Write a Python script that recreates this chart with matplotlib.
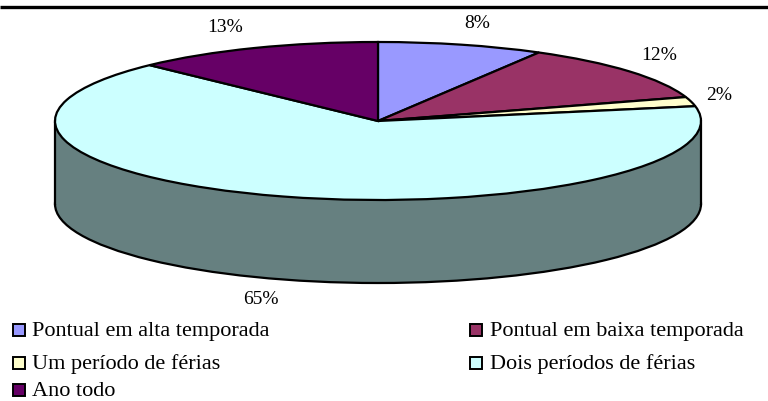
import matplotlib
matplotlib.use("Agg")
import matplotlib.pyplot as plt
from matplotlib.patches import Rectangle, Ellipse

plt.rcParams['font.family'] = ['Liberation Serif', 'DejaVu Serif']

categories = ["Pontual em alta temporada", "Pontual em baixa temporada",
              "Um período de férias", "Dois períodos de férias", "Ano todo"]
values = [8.3, 11.8, 1.9, 65.5, 12.5]
value_labels = ["8%", "12%", "2%", "65%", "13%"]
colors = ["#9999FF", "#993366", "#FFFFCC", "#CCFFFF", "#660066"]
side_color = "#668080"

W, H = 768, 401
CX, CY, RX, RY, DEPTH = 378, 121, 323, 79, 83
LW = 1.6

fig = plt.figure(figsize=(W / 100, H / 100), dpi=100)

# Pie axes: unit circle is stretched to the ellipse on the page
ax = fig.add_axes([0, 0, 1, 1])
ax.pie(values, colors=colors, startangle=90, counterclock=False, radius=1,
       wedgeprops=dict(edgecolor="black", linewidth=LW, zorder=5))
ax.set_aspect("auto")
ax.set_xlim((0 - CX) / RX, (W - CX) / RX)
ax.set_ylim((CY - H) / RY, (CY - 0) / RY)
ax.axis("off")

d = DEPTH / RY
ax.add_patch(Ellipse((0, -d), 2, 2, facecolor=side_color, edgecolor="black",
                     linewidth=LW, zorder=1))
ax.add_patch(Rectangle((-1, -d), 2, d, facecolor=side_color, edgecolor="none", zorder=2))
ax.plot([-1, -1], [0, -d], color="black", lw=LW, zorder=3)
ax.plot([1, 1], [0, -d], color="black", lw=LW, zorder=3)

# Overlay in page pixels for rule, labels and legend
ov = fig.add_axes([0, 0, 1, 1], facecolor="none")
ov.set_xlim(0, W)
ov.set_ylim(H, 0)
ov.axis("off")

ov.plot([0, W], [6.5, 6.5], color="black", lw=2.4, solid_capstyle="butt")

label_pos = [(477, 23), (659, 55), (719, 96), (261, 299), (225, 27)]
for txt, (x, y) in zip(value_labels, label_pos):
    ov.text(x, y, txt, fontsize=14, ha="center", va="center", color="black")

legend_pos = [(12, 336), (469, 336), (12, 369), (469, 369), (12, 396)]
for name, col, (x, y) in zip(categories, colors, legend_pos):
    ov.add_patch(Rectangle((x + 0.5, y - 12), 12, 11.5, facecolor=col, edgecolor="black",
                           linewidth=1.4, zorder=4))
    ov.text(x + 20.5, y, name, fontsize=16, ha="left", va="baseline", color="black")

fig.savefig("out.png", dpi=100)
